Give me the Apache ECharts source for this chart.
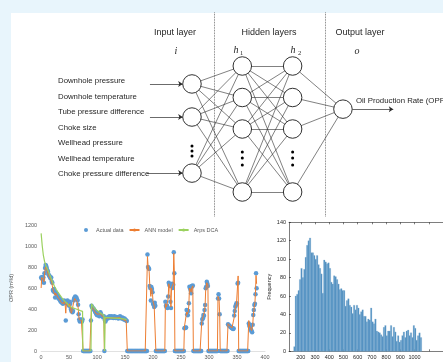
<!DOCTYPE html>
<html>
<head>
<meta charset="utf-8">
<script src="https://cdn.jsdelivr.net/npm/echarts@6/dist/echarts.min.js"></script>
<style>
html, body { margin: 0; padding: 0; background: #e8f5fc; }
#main { width: 443px; height: 362px; }
</style>
</head>
<body>
<div id="main"></div>
<script>
// ---- network diagram ----
const inputLabels = ['Downhole pressure', 'Downhole temperature', 'Tube pressure difference', 'Choke size',
    'Wellhead pressure', 'Wellhead temperature', 'Choke pressure difference'];
const layerX = [0, 1, 2, 3];
const inputRows = [0.57, 1.62, 3.4];
const hiddenRows = [0, 1, 2, 4];
const outputRows = [1.37];
const inputDotRows = [2.54, 2.7, 2.86];
const hiddenDotRows = [2.73, 2.92, 3.14];
const inputArrowStart = [-0.835, -0.835, -0.895];
const outputArrowEnd = 4.0;
const separatorX = [0.437, 2.643];

// ---- production history ----
const segStarts = [0, 89, 114, 190, 222, 256, 287, 316, 334, 371];
const zeroRuns = [[75, 88], [113, 113], [154, 189], [205, 221], [239, 255], [272, 286], [299, 315], [320, 333], [353, 370]];
const actualSegs = [
    [700, 690, 705, 680, 700, 650, 740, 790, 820, 810, 790, 770, 760, 730, 720, 715, 700, 690, 700, 660,
     650, 580, 570, 590, 560, 510, 560, 550, 540, 530, 520, 500, 510, 490, 480, 470, 485, 460, 470, 450,
     460, 480, 470, 460, 290, 460, 470, 480, 450, 440, 430, 470, 450, 400, 380, 390, 370, 380, 480, 500,
     510, 520, 500, 510, 490, 480, 440, 350, 300, 280, 290, 300, 290, 280, 300],
    [290, 430, 420, 410, 405, 400, 390, 380, 370, 360, 350, 340, 345, 360, 340, 330, 340, 370, 350, 340, 330, 330, 320, 330],
    [290, 280, 300, 310, 320, 310, 320, 325, 330, 320, 325, 320, 330, 325, 320, 315, 325, 330, 320, 315,
     320, 325, 320, 315, 310, 320, 325, 330, 320, 315, 310, 320, 315, 305, 300, 310, 300, 295, 290, 285],
    [920, 800, 790, 780, 620, 600, 480, 610, 590, 560, 450, 440, 420, 460, 430],
    [470, 430, 420, 430, 410, 520, 650, 630, 620, 470, 410, 620, 640, 600, 630, 940, 740],
    [216, 220, 222, 225, 390, 350, 340, 380, 454, 612, 600, 580, 550, 620, 615, 625],
    [263, 300, 311, 343, 336, 390, 438, 597, 612, 660, 640, 620],
    [500, 540, 500, 350],
    [254, 248, 241, 236, 232, 228, 222, 218, 214, 210, 215, 337, 380, 422, 438, 454, 450, 644, 650],
    [263, 240, 232, 215, 200, 190, 178, 250, 343, 390, 438, 450, 540, 740, 597]
];
const annSegs = [
    [600, 700, 690, 700, 680, 660, 720, 780, 800, 790, 780, 760, 740, 720, 710, 700, 690, 680, 680, 650,
     640, 590, 570, 580, 560, 530, 550, 540, 530, 520, 510, 500, 500, 490, 480, 470, 470, 460, 460, 450,
     450, 470, 460, 440, 360, 440, 460, 460, 440, 430, 420, 450, 430, 380, 360, 380, 370, 380, 460, 480,
     500, 500, 490, 490, 470, 460, 420, 350, 300, 290, 290, 300, 290, 290, 300],
    [300, 420, 420, 405, 400, 395, 385, 375, 365, 355, 345, 340, 345, 350, 340, 335, 340, 355, 345, 335, 330, 325, 320, 325],
    [300, 290, 300, 305, 315, 310, 315, 320, 320, 315, 320, 315, 320, 320, 315, 310, 320, 320, 315, 310,
     315, 320, 315, 310, 305, 315, 320, 320, 315, 310, 305, 310, 305, 300, 295, 300, 295, 290, 285, 280],
    [900, 820, 780, 760, 640, 580, 520, 600, 580, 540, 470, 450, 430, 440, 420],
    [450, 440, 420, 420, 420, 500, 640, 620, 600, 480, 420, 600, 620, 610, 640, 930, 760],
    [230, 225, 225, 240, 370, 350, 345, 380, 440, 600, 600, 580, 560, 600, 610, 620],
    [280, 300, 320, 340, 340, 380, 430, 580, 610, 650, 640, 630],
    [520, 530, 490, 360],
    [260, 250, 245, 240, 235, 230, 225, 220, 215, 215, 220, 320, 380, 410, 430, 450, 460, 620, 715],
    [290, 250, 235, 220, 205, 195, 185, 240, 330, 380, 430, 460, 560, 720, 640]
];
const arpsDays = [0, 2, 4, 6, 8, 10, 12, 15, 18, 21, 24, 27, 30, 34, 38, 42, 46, 50, 55, 60,
    65, 70, 74, 74.5, 89, 90, 93, 96, 100, 104, 108, 112, 113, 113.5, 114, 120, 130, 140, 150, 153];
const arpsValues = [1120, 1000, 910, 855, 820, 795, 770, 730, 690, 650, 615, 585, 560, 530, 500, 475, 455, 430, 415, 405,
    395, 385, 378, 0, 0, 450, 425, 405, 385, 370, 355, 342, 335, 0, 320, 318, 314, 310, 304, 298];

// ---- OPR histogram ----
const binStart = 150;
const binWidth = 10;
const freq = [5, 60, 62, 66, 78, 90, 80, 89, 102, 115, 120, 123, 107, 107, 104, 100, 104, 94, 90, 84,
    63, 99, 97, 95, 96, 90, 75, 73, 82, 81, 78, 73, 67, 68, 66, 66, 49, 55, 57, 50,
    48, 41, 50, 45, 50, 47, 40, 43, 45, 38, 38, 32, 35, 34, 47, 32, 30, 35, 22, 21,
    20, 18, 16, 26, 28, 17, 22, 22, 28, 16, 26, 21, 11, 17, 10, 12, 17, 21, 15, 22,
    23, 17, 20, 15, 28, 25, 12, 17, 20, 15];
const histTicks = [200, 300, 400, 500, 600, 700, 800, 900, 1000, 1100];
const histLabels = [200, 300, 400, 500, 600, 700, 800, 900, 1000];

// diagram geometry built from the layer arrays
const nodeEdge = 0.185;
const layerRows = [inputRows, hiddenRows, hiddenRows, outputRows];
const nodes = [];
layerRows.forEach((rows, l) => rows.forEach(r => nodes.push([layerX[l], r])));
const edges = [];
for (let l = 0; l < 3; l++) {
    layerRows[l].forEach(a => layerRows[l + 1].forEach(b => {
        edges.push({ coords: [[layerX[l], a], [layerX[l + 1], b]] });
    }));
}
const arrows = inputRows.map((r, i) => ({ coords: [[inputArrowStart[i], r], [layerX[0] - nodeEdge, r]] }));
arrows.push({ coords: [[layerX[3] + nodeEdge, outputRows[0]], [outputArrowEnd, outputRows[0]]] });
const dots = [].concat(
    inputDotRows.map(r => [layerX[0], r]),
    hiddenDotRows.map(r => [layerX[1], r]),
    hiddenDotRows.map(r => [layerX[2], r])
);
const separators = separatorX.map(x => ({ coords: [[x, -1.7], [x, 4.8]] }));

function buildDaily(segs) {
    const out = [];
    zeroRuns.forEach(([a, b]) => { for (let d = a; d <= b; d++) out.push([d, 0]); });
    segStarts.forEach((s, i) => segs[i].forEach((v, j) => out.push([s + j, v])));
    out.sort((p, q) => p[0] - q[0]);
    return out;
}
const actualData = buildDaily(actualSegs);
const annData = buildDaily(annSegs);
const arpsData = arpsDays.map((d, i) => [d, arpsValues[i]]);
const histData = freq.map((f, i) => [binStart + i * binWidth, binStart + (i + 1) * binWidth, f]);

const sans = 'Liberation Sans, Arial, sans-serif';
const serif = 'Liberation Serif, DejaVu Serif, serif';
const dark = '#262626';
const gray = '#595959';
const plain = v => String(v);

const texts = [
    { text: 'Input layer', x: 175, y: 33, size: 9 },
    { text: 'Hidden layers', x: 269, y: 33, size: 9 },
    { text: 'Output layer', x: 360, y: 33, size: 9 }
].map(t => ({
    type: 'text', x: t.x, y: t.y, silent: true,
    style: { text: t.text, fontSize: t.size, fontFamily: sans, fill: dark, align: 'center', verticalAlign: 'middle' }
}));

const mathTexts = [
    { text: 'i', x: 176, y: 51.5, size: 10 },
    { text: 'h', x: 236, y: 50.5, size: 10 },
    { text: '1', x: 241.5, y: 53, size: 6.5 },
    { text: 'h', x: 293, y: 50.5, size: 10 },
    { text: '2', x: 299.5, y: 53, size: 6.5 },
    { text: 'o', x: 357, y: 51.5, size: 10 }
].map(t => ({
    type: 'text', x: t.x, y: t.y, silent: true,
    style: { text: t.text, fontSize: t.size, fontFamily: serif, fontStyle: t.size > 8 ? 'italic' : 'normal',
        fill: dark, align: 'center', verticalAlign: 'middle' }
}));

const labelTexts = inputLabels.map((s, i) => ({
    type: 'text', x: 58, y: 81 + i * 15.5, silent: true,
    style: { text: s, fontSize: 7.8, fontFamily: sans, fill: dark, align: 'left', verticalAlign: 'middle' }
}));
labelTexts.push({
    type: 'text', x: 356, y: 101, silent: true,
    style: { text: 'Oil Production Rate (OPR)', fontSize: 7.8, fontFamily: sans, fill: dark, align: 'left', verticalAlign: 'middle' }
});

const histLine = { color: dark, width: 0.6 };

const myChart = echarts.init(document.getElementById('main'));

const option = {
    animation: false,
    backgroundColor: '#e8f5fc',
    textStyle: { fontFamily: sans },
    graphic: [
        { type: 'rect', left: 11, top: 13, z: -10, silent: true, shape: { width: 432, height: 349 }, style: { fill: '#ffffff' } }
    ].concat(texts, mathTexts, labelTexts),
    legend: {
        left: 84,
        top: 227,
        padding: 0,
        itemWidth: 10,
        itemHeight: 4,
        itemGap: 5,
        textStyle: { fontSize: 5.5, color: gray, fontFamily: sans },
        data: [{ name: 'Actual data', icon: 'circle' }, 'ANN model', 'Arps DCA']
    },
    grid: [
        { left: 91.33, top: 12.45, width: 312, height: 204.75 },
        { left: 33.3, top: 225, width: 231.7, height: 126 },
        { left: 289, top: 222.3, width: 187.4, height: 129 }
    ],
    xAxis: [
        { gridIndex: 0, type: 'value', min: -2, max: 4.2, show: false },
        {
            gridIndex: 1, type: 'value', min: 0, max: 400, interval: 50,
            axisLine: { lineStyle: { color: '#d9d9d9', width: 0.8 } },
            axisTick: { show: false },
            axisLabel: { fontSize: 5.5, color: gray, margin: 3, formatter: plain },
            splitLine: { show: false }
        },
        {
            gridIndex: 2, type: 'value', min: 117, max: 1200,
            axisLine: { lineStyle: histLine },
            axisTick: { inside: true, length: 2, customValues: histTicks, lineStyle: histLine },
            axisLabel: { fontSize: 5.5, color: dark, margin: 3, customValues: histLabels, formatter: plain },
            splitLine: { show: false }
        },
        {
            gridIndex: 2, type: 'value', min: 117, max: 1200, position: 'top',
            axisLine: { lineStyle: histLine },
            axisTick: { inside: true, length: 2, customValues: histTicks, lineStyle: histLine },
            axisLabel: { show: false },
            splitLine: { show: false }
        }
    ],
    yAxis: [
        { gridIndex: 0, type: 'value', min: -1.7, max: 4.8, inverse: true, show: false },
        {
            gridIndex: 1, type: 'value', min: 0, max: 1200, interval: 200,
            axisLine: { show: false },
            axisTick: { show: false },
            axisLabel: { fontSize: 5.5, color: gray, margin: 4, formatter: plain },
            splitLine: { show: false },
            name: 'OPR (m³/d)',
            nameLocation: 'middle',
            nameGap: 16,
            nameTextStyle: { fontSize: 5.5, color: gray }
        },
        {
            gridIndex: 2, type: 'value', min: 0, max: 140, interval: 20,
            axisLine: { show: true, lineStyle: histLine },
            axisTick: { show: true, inside: true, length: 2, lineStyle: histLine },
            axisLabel: { fontSize: 5.5, color: dark, margin: 3, formatter: plain },
            splitLine: { show: false },
            name: 'Frequency',
            nameLocation: 'middle',
            nameGap: 13,
            nameTextStyle: { fontSize: 5.5, color: dark }
        }
    ],
    series: [
        {
            type: 'lines', coordinateSystem: 'cartesian2d', xAxisIndex: 0, yAxisIndex: 0, silent: true,
            lineStyle: { color: '#555', width: 0.8, type: 'dotted', opacity: 1 },
            data: separators
        },
        {
            type: 'lines', coordinateSystem: 'cartesian2d', xAxisIndex: 0, yAxisIndex: 0, silent: true,
            lineStyle: { color: '#2b2b2b', width: 0.6, opacity: 1 },
            data: edges
        },
        {
            type: 'lines', coordinateSystem: 'cartesian2d', xAxisIndex: 0, yAxisIndex: 0, silent: true,
            symbol: ['none', 'arrow'], symbolSize: 4.5,
            lineStyle: { color: '#2b2b2b', width: 0.7, opacity: 1 },
            data: arrows
        },
        {
            type: 'scatter', xAxisIndex: 0, yAxisIndex: 0, silent: true,
            symbolSize: 18.5,
            itemStyle: { color: '#ffffff', borderColor: '#1a1a1a', borderWidth: 0.9, opacity: 1 },
            data: nodes
        },
        {
            type: 'scatter', xAxisIndex: 0, yAxisIndex: 0, silent: true,
            symbolSize: 3,
            itemStyle: { color: '#000000', opacity: 1 },
            data: dots
        },
        {
            name: 'Actual data', type: 'scatter', xAxisIndex: 1, yAxisIndex: 1,
            symbolSize: 4.5,
            itemStyle: { color: '#5b9bd5', opacity: 1 },
            data: actualData
        },
        {
            name: 'ANN model', type: 'line', xAxisIndex: 1, yAxisIndex: 1,
            symbol: 'none',
            lineStyle: { color: '#ed7d31', width: 1 },
            itemStyle: { color: '#ed7d31' },
            data: annData
        },
        {
            name: 'Arps DCA', type: 'line', xAxisIndex: 1, yAxisIndex: 1,
            symbol: 'none',
            lineStyle: { color: '#9bd15f', width: 1.2 },
            itemStyle: { color: '#9bd15f' },
            data: arpsData
        },
        {
            type: 'custom', xAxisIndex: 2, yAxisIndex: 2, silent: true,
            encode: { x: [0, 1], y: 2 },
            renderItem: function (params, api) {
                const p0 = api.coord([api.value(0), api.value(2)]);
                const p1 = api.coord([api.value(1), 0]);
                return {
                    type: 'rect',
                    shape: { x: p0[0], y: p0[1], width: p1[0] - p0[0], height: p1[1] - p0[1] },
                    style: { fill: '#4a8cc0', stroke: '#8db3d3', lineWidth: 0.3 }
                };
            },
            data: histData
        }
    ]
};

myChart.setOption(option);
</script>
</body>
</html>
